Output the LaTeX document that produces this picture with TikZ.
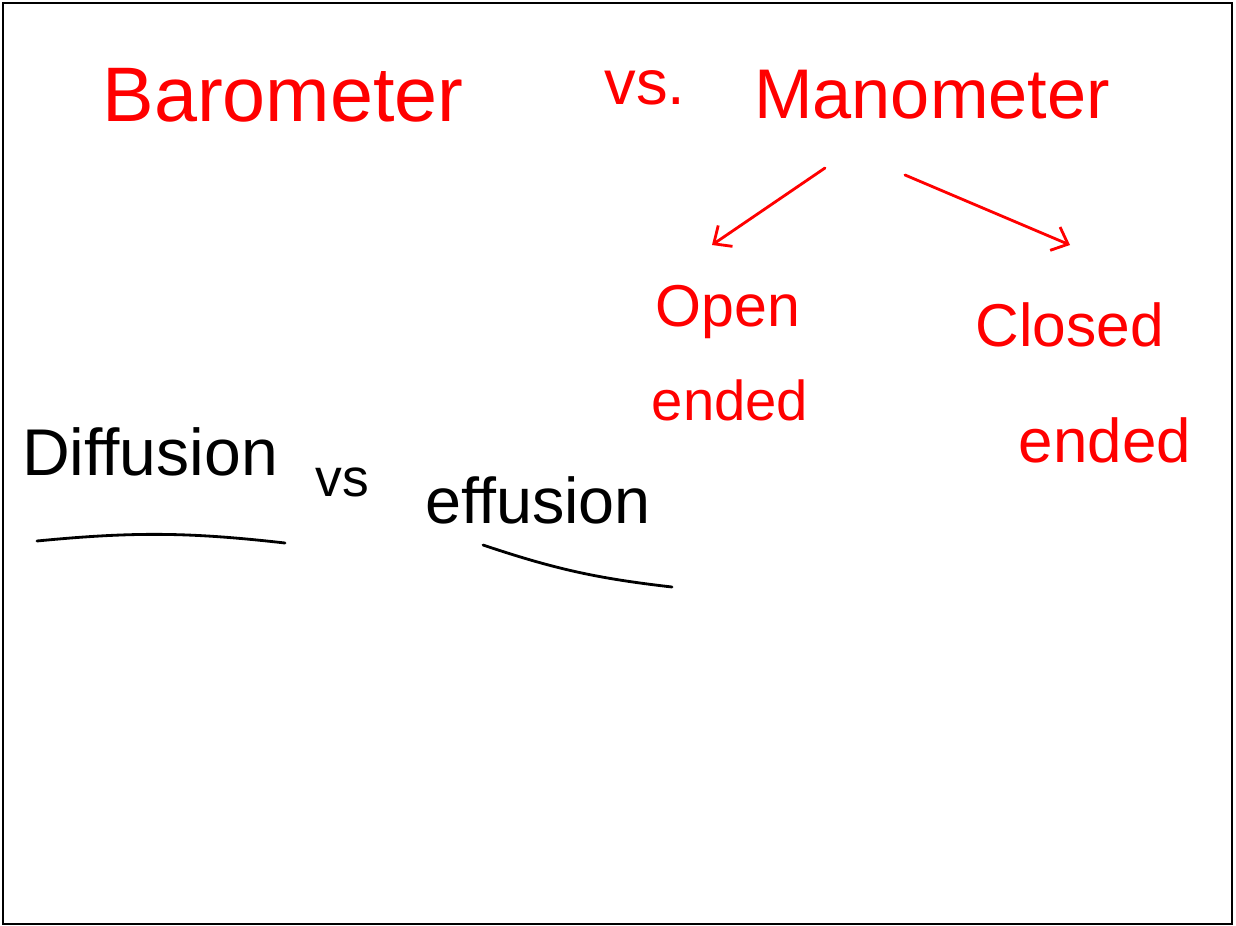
\documentclass[tikz,border=0pt]{standalone}
\usepackage{fontspec}
\setmainfont{Liberation Sans}
\usetikzlibrary{positioning,arrows.meta}

\begin{document}
\begin{tikzpicture}[
		x=0.025cm,y=-0.025cm,
		redword/.style={text=red,inner sep=0pt},
		blackword/.style={text=black,inner sep=0pt},
		branch/.style={draw=red,line width=2pt,line cap=round,-{Straight Barb[length=10pt,width=18pt,line width=2pt]}},
		underline/.style={draw=black,line width=2pt,line cap=round}
		]
		\useasboundingbox (0,0) rectangle (1236,926);
		\draw[line width=0.8pt] (3,3) rectangle (1232,924);
		% top row
		\node[redword,font=\fontsize{55}{55}\selectfont] (baro) at (283,95) {Barometer};
		\node[redword,font=\fontsize{45}{45}\selectfont] (vsA) at (645,88) {vs.};
		\node[redword,font=\fontsize{50}{50}\selectfont] (mano) at (932,95) {Manometer};
		% branches
		\coordinate (leftTail) at (825,168);
		\coordinate (leftHead) at (712,245);
		\coordinate (rightTail) at (905,175);
		\coordinate (rightHead) at (1070,245);
		\draw[branch] (leftTail) -- (leftHead);
		\draw[branch] (rightTail) -- (rightHead);
		\node[redword,font=\fontsize{42}{42}\selectfont] (open) at (728,312) {Open};
		\node[redword,font=\fontsize{40}{40}\selectfont] (openEnd) at (730,400) {ended};
		\node[redword,font=\fontsize{43}{43}\selectfont] (closed) at (1070,325) {Closed};
		\node[redword,font=\fontsize{44}{44}\selectfont] (closedEnd) at (1105,440) {ended};
		% second row
		\node[blackword,font=\fontsize{47}{47}\selectfont] (diff) at (150,452) {Diffusion};
		\node[blackword,font=\fontsize{38}{38}\selectfont] (vsB) at (342,482) {vs};
		\node[blackword,font=\fontsize{46}{46}\selectfont] (eff) at (538,500) {effusion};
		\coordinate (diffL) at (37,541);
		\coordinate (diffR) at (285,543);
		\coordinate (effL) at (483,545);
		\coordinate (effR) at (672,587);
		\draw[underline] (diffL) to[bend left=6] (diffR);
		\draw[underline] (effL) to[bend right=6] (effR);
	\end{tikzpicture}
\end{document}
